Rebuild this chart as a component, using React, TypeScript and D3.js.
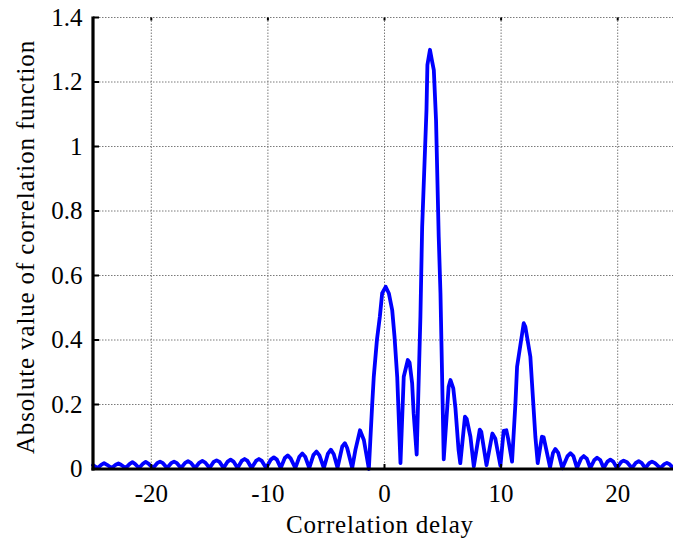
import React from "react";
import * as d3 from "d3";

// Correlation delay (x) and |correlation| (y) vertices
const delay: number[] = [
  -25.0, -24.6, -24.3, -24.05, -23.8, -23.4, -23.05, -22.82, -22.6, -22.2,
  -21.85, -21.62, -21.4, -21.05, -20.7, -20.48, -20.25, -19.85, -19.5, -19.25,
  -19.0, -18.65, -18.3, -18.05, -17.8, -17.45, -17.1, -16.85, -16.6, -16.25,
  -15.87, -15.62, -15.37, -15.0, -14.65, -14.4, -14.15, -13.8, -13.45, -13.2,
  -12.95, -12.6, -12.25, -12.0, -11.75, -11.4, -11.02, -10.77, -10.52, -10.15,
  -9.75, -9.49, -9.23, -8.9, -8.55, -8.3, -8.05, -7.65, -7.3, -7.05,
  -6.8, -6.45, -6.1, -5.83, -5.58, -5.2, -4.85, -4.6, -4.35, -4.03,
  -3.62, -3.4, -3.2, -2.77, -2.49, -2.1, -1.77, -1.34, -1.2, -1.05,
  -0.92, -0.65, -0.4, -0.2, 0.1, 0.37, 0.66, 0.86, 1.09, 1.37,
  1.65, 2.0, 2.15, 2.37, 2.5, 2.76, 3.08, 3.23, 3.6, 3.68,
  3.9, 4.05, 4.23, 4.42, 4.65, 4.8, 5.08, 5.5, 5.66, 5.9,
  6.08, 6.35, 6.5, 6.9, 7.05, 7.37, 7.66, 8.17, 8.3, 8.75,
  9.25, 9.5, 9.94, 10.22, 10.45, 10.6, 10.94, 11.23, 11.37, 11.94,
  12.08, 12.51, 12.65, 12.94, 13.14, 13.5, 13.65, 14.2, 14.45, 14.65,
  14.9, 15.25, 15.7, 15.94, 16.2, 16.51, 16.85, 17.09, 17.35, 17.65,
  18.0, 18.23, 18.5, 18.8, 19.12, 19.37, 19.62, 19.94, 20.28, 20.51,
  20.8, 21.22, 21.55, 21.8, 22.05, 22.37, 22.7, 22.94, 23.2, 23.65,
  24.0, 24.22, 24.45, 24.75, 25.0,
];

const magnitude: number[] = [
  0.012, 0.003, 0.013, 0.018, 0.013, 0.003, 0.013, 0.017, 0.013, 0.003,
  0.016, 0.021, 0.016, 0.003, 0.017, 0.022, 0.017, 0.003, 0.018, 0.023,
  0.018, 0.003, 0.018, 0.023, 0.018, 0.003, 0.019, 0.024, 0.019, 0.003,
  0.02, 0.025, 0.02, 0.003, 0.022, 0.027, 0.022, 0.003, 0.023, 0.029,
  0.023, 0.003, 0.025, 0.031, 0.025, 0.003, 0.025, 0.031, 0.025, 0.003,
  0.029, 0.036, 0.029, 0.003, 0.034, 0.042, 0.033, 0.003, 0.038, 0.048,
  0.038, 0.003, 0.043, 0.054, 0.042, 0.003, 0.048, 0.06, 0.046, 0.004,
  0.07, 0.08, 0.065, 0.003, 0.06, 0.12, 0.09, 0.0, 0.1, 0.204,
  0.286, 0.4, 0.472, 0.545, 0.565, 0.545, 0.493, 0.41, 0.286, 0.018,
  0.286, 0.338, 0.33, 0.266, 0.173, 0.045, 0.472, 0.751, 1.113, 1.253,
  1.3, 1.27, 1.237, 1.082, 0.72, 0.545, 0.03, 0.255, 0.276, 0.25,
  0.19, 0.06, 0.018, 0.162, 0.155, 0.1, 0.008, 0.122, 0.115, 0.012,
  0.11, 0.095, 0.01, 0.118, 0.12, 0.095, 0.023, 0.204, 0.317, 0.452,
  0.441, 0.348, 0.266, 0.1, 0.018, 0.1, 0.098, 0.005, 0.05, 0.062,
  0.05, 0.002, 0.04, 0.049, 0.04, 0.003, 0.032, 0.04, 0.032, 0.003,
  0.028, 0.035, 0.028, 0.003, 0.023, 0.029, 0.023, 0.003, 0.021, 0.026,
  0.021, 0.003, 0.019, 0.024, 0.019, 0.003, 0.018, 0.023, 0.018, 0.003,
  0.015, 0.019, 0.015, 0.003, 0.01,
];

const xTicks: number[] = [-20, -10, 0, 10, 20];
const xTickLabels: string[] = ["-20", "-10", "0", "10", "20"];
const yTicks: number[] = [0, 0.2, 0.4, 0.6, 0.8, 1, 1.2, 1.4];
const yTickLabels: string[] = ["0", "0.2", "0.4", "0.6", "0.8", "1", "1.2", "1.4"];

const W = 673;
const H = 540;
const left = 93;
const right = 676;
const top = 17.5;
const bottom = 469;

export default function App() {
  const x = d3.scaleLinear().domain([-25, 25]).range([left, right]);
  const y = d3.scaleLinear().domain([0, 1.4]).range([bottom, top]);
  const pts: [number, number][] = delay.map((d, i) => [d, magnitude[i]]);
  const line = d3
    .line<[number, number]>()
    .x((d) => x(d[0]))
    .y((d) => y(d[1]))
    .curve(d3.curveLinear);
  const font = "'Liberation Serif', 'Times New Roman', serif";

  return (
    <svg
      width={W}
      height={H}
      style={{ position: "absolute", left: 0, top: 0, background: "#fff" }}
    >
      <rect x={0} y={0} width={W} height={H} fill="#fff" />
      {/* grid */}
      <g stroke="#7a7a7a" strokeWidth={1} strokeDasharray="1.5,1.5">
        {xTicks.map((t) => (
          <line key={"gx" + t} x1={x(t)} x2={x(t)} y1={top} y2={bottom} />
        ))}
        {yTicks.slice(1).map((t) => (
          <line key={"gy" + t} x1={left} x2={right} y1={y(t)} y2={y(t)} />
        ))}
      </g>
      {/* curve */}
      <path
        d={line(pts) || ""}
        fill="none"
        stroke="#0000ff"
        strokeWidth={3.8}
        strokeLinejoin="round"
        strokeLinecap="round"
      />
      {/* axes */}
      <line x1={left} x2={left} y1={top - 1} y2={bottom + 1.5} stroke="#000" strokeWidth={3.2} />
      <line x1={left - 1.5} x2={right} y1={bottom} y2={bottom} stroke="#000" strokeWidth={3.2} />
      <g stroke="#000" strokeWidth={2}>
        {yTicks.map((t) => (
          <line key={"ty" + t} x1={left} x2={left + 6} y1={y(t)} y2={y(t)} />
        ))}
        {xTicks.map((t) => (
          <line key={"tx" + t} x1={x(t)} x2={x(t)} y1={bottom} y2={bottom - 5} />
        ))}
        {xTicks.map((t) => (
          <line key={"tt" + t} x1={x(t)} x2={x(t)} y1={top} y2={top + 3} />
        ))}
      </g>
      {/* tick labels */}
      <g fontFamily={font} fontSize={25} fill="#000">
        {yTicks.map((t, i) => (
          <text key={"ly" + t} x={82.5} y={y(t)} dy="0.33em" textAnchor="end">
            {yTickLabels[i]}
          </text>
        ))}
        {xTicks.map((t, i) => (
          <text key={"lx" + t} x={x(t)} y={502} textAnchor="middle">
            {xTickLabels[i]}
          </text>
        ))}
      </g>
      {/* titles */}
      <text
        x={380}
        y={533}
        textAnchor="middle"
        fontFamily={font}
        fontSize={25}
        letterSpacing={0.8}
      >
        Correlation delay
      </text>
      <text
        transform={`translate(33.5,${247}) rotate(-90)`}
        textAnchor="middle"
        fontFamily={font}
        fontSize={25}
        letterSpacing={0.85}
      >
        Absolute value of correlation function
      </text>
    </svg>
  );
}
